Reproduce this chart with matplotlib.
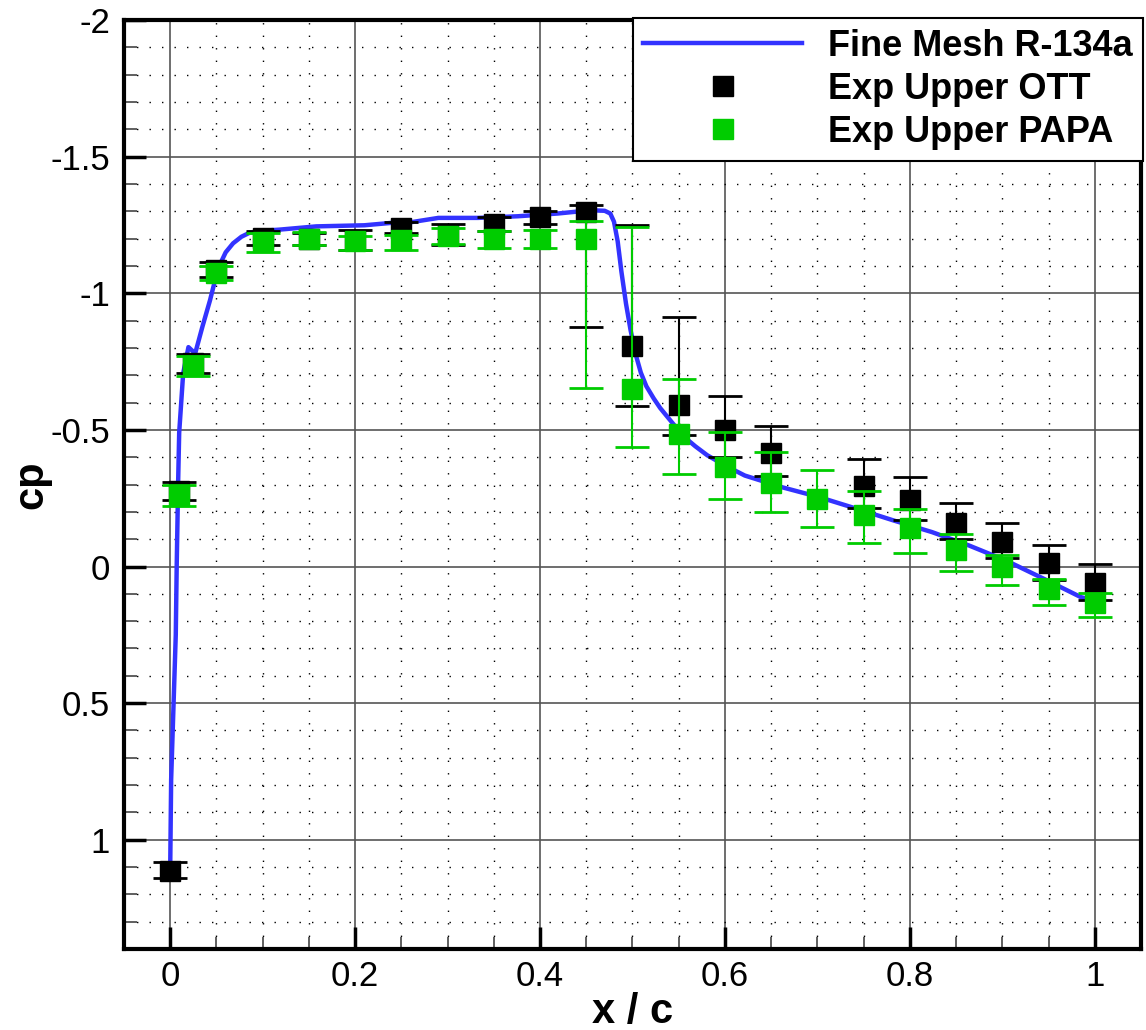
import matplotlib
matplotlib.use("Agg")
import matplotlib.pyplot as plt
import numpy as np
from matplotlib.ticker import MultipleLocator, FormatStrFormatter

plt.rcParams['font.family'] = ['Liberation Sans', 'DejaVu Sans']
plt.rcParams['axes.unicode_minus'] = False

# Fine mesh CFD solution (upper surface)
cfd_x = [0.0, 0.001, 0.006, 0.007, 0.0086, 0.0097, 0.014, 0.0197, 0.027, 0.035,
         0.043, 0.048, 0.053, 0.06, 0.068, 0.077, 0.086, 0.1, 0.118, 0.158, 0.21,
         0.24, 0.262, 0.29, 0.333, 0.376, 0.419, 0.455, 0.47, 0.476, 0.48, 0.484,
         0.488, 0.493, 0.498, 0.5036, 0.509, 0.515, 0.523, 0.53, 0.538, 0.547,
         0.556, 0.568, 0.581, 0.6, 0.6215, 0.662, 0.702, 0.743, 0.783, 0.824,
         0.864, 0.904, 0.945, 0.985, 1.0]
cfd_cp = [1.10, 0.78, 0.25, 0.0, -0.315, -0.49, -0.707, -0.803, -0.78, -0.88,
          -0.974, -1.041, -1.10, -1.15, -1.183, -1.207, -1.222, -1.229, -1.233, -1.245, -1.249,
          -1.258, -1.261, -1.276, -1.276, -1.282, -1.292, -1.304, -1.302, -1.292, -1.262, -1.19,
          -1.08, -0.962, -0.864, -0.775, -0.71, -0.66, -0.615, -0.58, -0.547, -0.51,
          -0.474, -0.44, -0.407, -0.37, -0.333, -0.29, -0.254, -0.211, -0.168, -0.126,
          -0.077, -0.022, 0.045, 0.112, 0.125]

# Experiment OTT (upper)
ott_x = [0.0, 0.01, 0.025, 0.05, 0.1, 0.15, 0.2, 0.25, 0.3, 0.35, 0.4, 0.45,
         0.5, 0.55, 0.6, 0.65, 0.75, 0.8, 0.85, 0.9, 0.95, 1.0]
ott_cp = [1.113, -0.277, -0.744, -1.087, -1.203, -1.198, -1.194, -1.24, -1.214, -1.254, -1.278, -1.298,
          -0.806, -0.593, -0.498, -0.415, -0.293, -0.242, -0.16, -0.089, -0.012, 0.06]
ott_min = [1.083, -0.311, -0.779, -1.115, -1.228, -1.22, -1.23, -1.261, -1.252, -1.28, -1.30, -1.325,
           -1.249, -0.913, -0.623, -0.513, -0.392, -0.327, -0.233, -0.16, -0.077, -0.01]
ott_max = [1.14, -0.242, -0.708, -1.06, -1.178, -1.176, -1.157, -1.22, -1.176, -1.228, -1.255, -0.877,
           -0.586, -0.48, -0.40, -0.333, -0.215, -0.171, -0.099, -0.03, 0.049, 0.122]

# Experiment PAPA (upper)
papa_x = [0.01, 0.025, 0.05, 0.1, 0.15, 0.2, 0.25, 0.3, 0.35, 0.4, 0.45,
          0.5, 0.55, 0.6, 0.65, 0.7, 0.75, 0.8, 0.85, 0.9, 0.95, 1.0]
papa_cp = [-0.257, -0.734, -1.076, -1.186, -1.20, -1.19, -1.194, -1.21, -1.20, -1.20, -1.20,
           -0.651, -0.486, -0.364, -0.305, -0.248, -0.189, -0.14, -0.062, 0.002, 0.082, 0.134]
papa_min = [-0.297, -0.769, -1.10, -1.22, -1.225, -1.21, -1.212, -1.239, -1.227, -1.233, -1.265,
            -1.241, -0.687, -0.494, -0.419, -0.354, -0.278, -0.209, -0.12, -0.043, 0.045, 0.098]
papa_max = [-0.22, -0.696, -1.05, -1.151, -1.175, -1.16, -1.16, -1.182, -1.167, -1.167, -0.654,
            -0.437, -0.337, -0.248, -0.201, -0.144, -0.087, -0.049, 0.015, 0.066, 0.139, 0.183]

blue = '#3333ff'
green = '#00cc00'

fig = plt.figure(figsize=(11.46, 10.30), dpi=100)
ax = fig.add_axes([0.1082, 0.0786, 0.8874, 0.9019])

ax.plot(cfd_x, cfd_cp, color=blue, lw=3.2, label='Fine Mesh R-134a', zorder=3)

ott_cp_a = np.array(ott_cp)
ott_err = [ott_cp_a - np.array(ott_min), np.array(ott_max) - ott_cp_a]
ax.errorbar(ott_x, ott_cp, yerr=ott_err, fmt='none', ecolor='black', elinewidth=1.5,
            capsize=12, capthick=2, zorder=4)
ax.plot(ott_x, ott_cp, 's', color='black', ms=14, mec='black', label='Exp Upper OTT', zorder=4)

papa_cp_a = np.array(papa_cp)
papa_err = [papa_cp_a - np.array(papa_min), np.array(papa_max) - papa_cp_a]
ax.errorbar(papa_x, papa_cp, yerr=papa_err, fmt='none', ecolor=green, elinewidth=1.5,
            capsize=12, capthick=2, zorder=4)
ax.plot(papa_x, papa_cp, 's', color=green, ms=14, mec=green, label='Exp Upper PAPA', zorder=4)

ax.set_xlim(-0.05, 1.05)
ax.set_ylim(1.4, -2.0)

ax.xaxis.set_major_locator(MultipleLocator(0.2))
ax.xaxis.set_minor_locator(MultipleLocator(0.05))
ax.yaxis.set_major_locator(MultipleLocator(0.5))
ax.yaxis.set_minor_locator(MultipleLocator(0.1))
ax.xaxis.set_major_formatter(FormatStrFormatter('%g'))
ax.yaxis.set_major_formatter(FormatStrFormatter('%g'))

ax.grid(True, which='major', color='#555555', lw=1.2, zorder=1)
ax.grid(True, which='minor', color='black', lw=1.0, linestyle=(0, (1, 8)), zorder=1)
ax.set_axisbelow(True)

ax.tick_params(which='major', direction='in', length=16, width=2.5, labelsize=25,
               top=False, right=False, color='black')
ax.tick_params(axis='y', which='major', pad=10)
ax.tick_params(axis='x', which='major', pad=8)
ax.tick_params(which='minor', direction='in', length=9, width=1.2, top=False, right=False,
               color='#444444')

for s in ax.spines.values():
    s.set_linewidth(3)

ax.set_xlabel('x / c', fontsize=30, fontweight='bold')
ax.set_ylabel('cp', fontsize=30, fontweight='bold')
ax.xaxis.set_label_coords(0.5, -0.046)
ax.yaxis.set_label_coords(-0.071, 0.5)

leg = ax.legend(loc='upper right', bbox_to_anchor=(1.002, 1.002), borderaxespad=0,
                fancybox=False, framealpha=1, edgecolor='black', borderpad=0.3,
                labelspacing=0.22, handlelength=4.4, handletextpad=0.7,
                prop={'size': 26, 'weight': 'bold'})
leg.get_frame().set_linewidth(1.5)

fig.savefig('out.png', dpi=100)
